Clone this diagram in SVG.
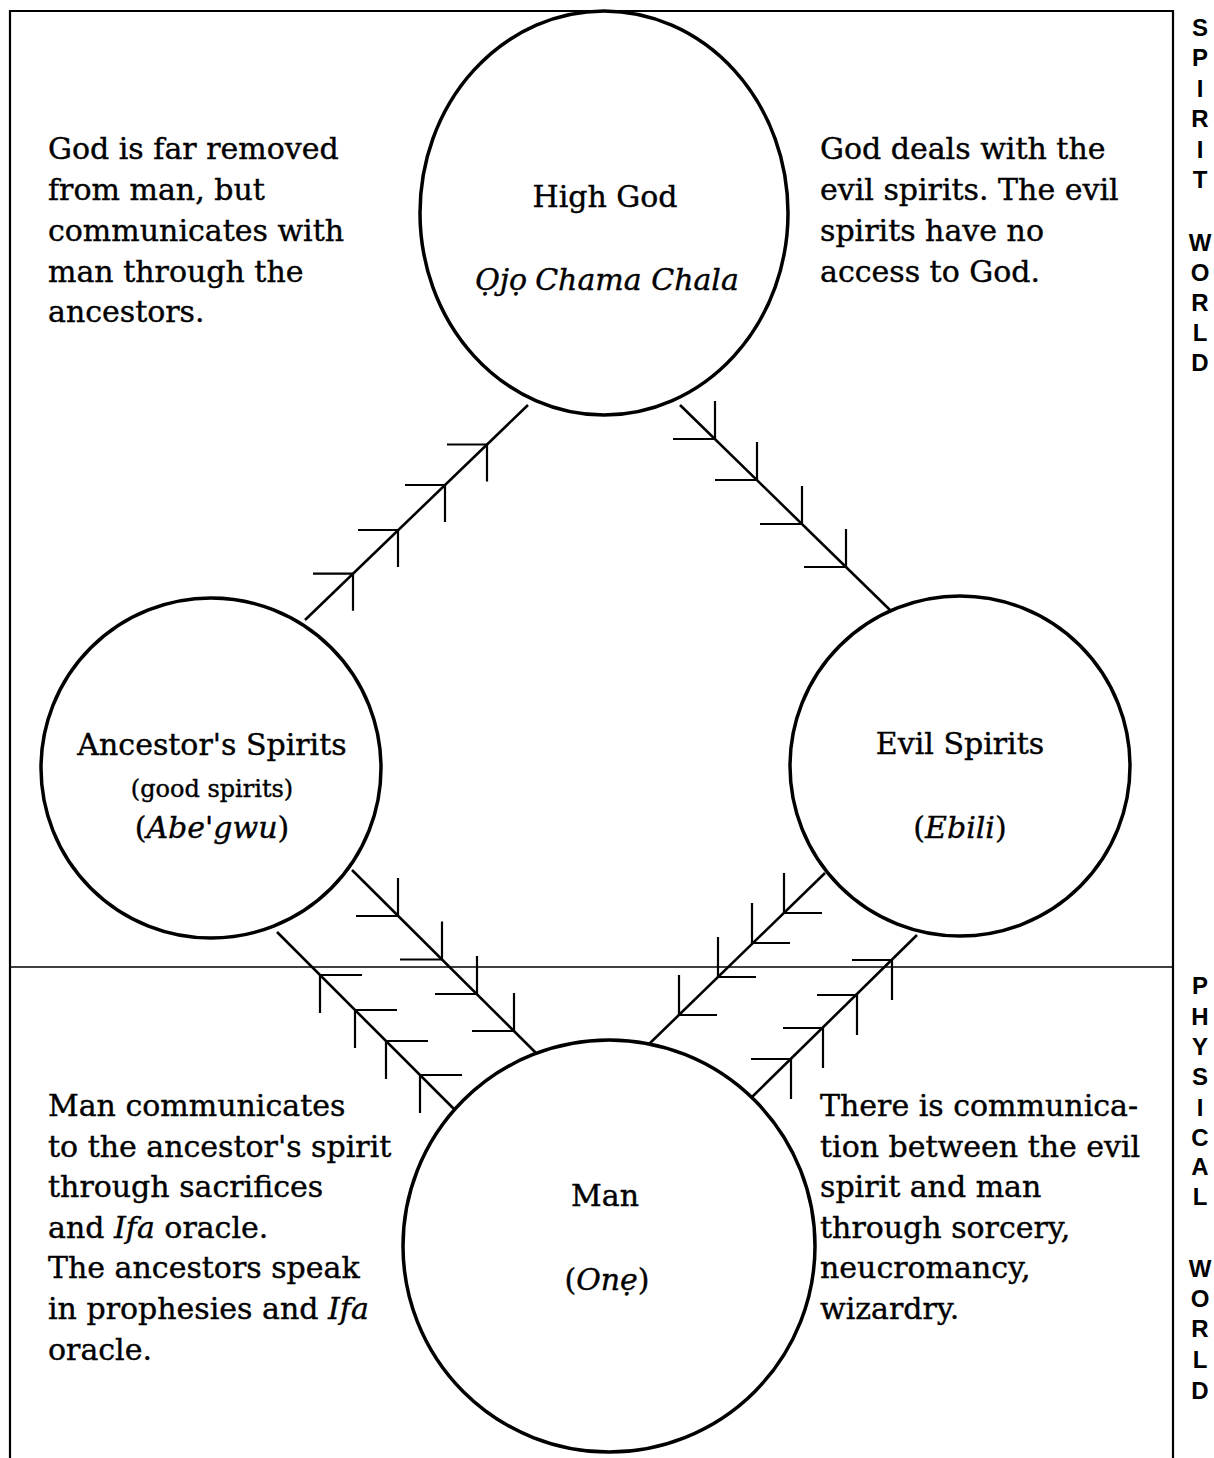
<svg xmlns="http://www.w3.org/2000/svg" width="1214" height="1458" viewBox="0 0 1214 1458">
<style>
.frame{fill:none;stroke:#000;stroke-width:2.2}
.divider{fill:none;stroke:#000;stroke-width:1.6}
.node{fill:#fff;stroke:#000;stroke-width:3.5}
.link{fill:none;stroke:#000;stroke-width:2.6}
.barb{fill:none;stroke:#000;stroke-width:2.2}
.t{font-family:"DejaVu Serif","Liberation Serif",serif;font-size:30px;fill:#000;stroke:#000;stroke-width:0.4}
.c{text-anchor:middle}
.s{font-size:24px}
.i{font-style:italic}
.side{font-family:"Liberation Sans",Arial,sans-serif;font-weight:bold;font-size:24px;text-anchor:middle;fill:#000}
</style>
<rect width="1214" height="1458" fill="#fff"/>
<g id="frame">
<path class="frame" d="M10,1458 V11 H1173 V1458"/>
<line class="divider" x1="10" y1="967" x2="1173" y2="967"/>
</g>
<g id="connectors">
<path class="link" d="M305,620 L528,405"/>
<path class="barb" d="M447,444.5 H487 V481.5 M405,485 H445 V522 M358,530 H398 V567 M313,573.7 H353 V610.7"/>
<path class="link" d="M680,405 L890,610"/>
<path class="barb" d="M673,439 H715 V401 M715,480 H757 V442 M760,524 H802 V486 M804,567 H846 V529"/>
<path class="link" d="M352,870 L538,1055"/>
<path class="barb" d="M356,916 H398 V878 M400,959.5 H442 V921.5 M435,994 H477 V956 M472,1031 H514 V993"/>
<path class="link" d="M277,932 L455,1110"/>
<path class="barb" d="M362,975 H320 V1013 M397,1010 H355 V1048 M428,1041 H386 V1079 M462,1075 H420 V1113"/>
<path class="link" d="M825,873 L647,1046"/>
<path class="barb" d="M784,873 V913 H822 M752,903 V943 H790 M718,937 V977 H756 M679,975 V1015 H717"/>
<path class="link" d="M917,935 L752,1097"/>
<path class="barb" d="M852,960 H892 V1000 M817,995 H857 V1035 M783,1028 H823 V1068 M751,1059 H791 V1099"/>
</g>
<g id="high-god">
<ellipse class="node" cx="604" cy="213" rx="184" ry="202"/>
<text class="t c" x="605" y="207">High God</text>
<text class="t c i" x="607" y="290">Ọjọ<tspan dx="8">Chama Chala</tspan></text>
</g>
<g id="ancestors">
<circle class="node" cx="211" cy="768" r="170"/>
<text class="t c" x="212" y="755">Ancestor's Spirits</text>
<text class="t c s" x="212" y="797">(good spirits)</text>
<text class="t c" x="212" y="838">(<tspan class="i">Abe'gwu</tspan>)</text>
</g>
<g id="evil-spirits">
<circle class="node" cx="960" cy="766" r="170"/>
<text class="t c" x="960" y="754">Evil Spirits</text>
<text class="t c" x="960" y="838">(<tspan class="i">Ebili</tspan>)</text>
</g>
<g id="man">
<circle class="node" cx="609" cy="1246" r="206"/>
<text class="t c" x="605" y="1206">Man</text>
<text class="t c" x="607" y="1290">(<tspan class="i">Onẹ</tspan>)</text>
</g>
<g id="note-top-left">
<text class="t" x="48" y="159">God is far removed</text>
<text class="t" x="48" y="200">from man, but</text>
<text class="t" x="48" y="241">communicates with</text>
<text class="t" x="48" y="282">man through the</text>
<text class="t" x="48" y="322">ancestors.</text>
</g>
<g id="note-top-right">
<text class="t" x="820" y="159">God deals with the</text>
<text class="t" x="820" y="200">evil spirits. The evil</text>
<text class="t" x="820" y="241">spirits have no</text>
<text class="t" x="820" y="282">access to God.</text>
</g>
<g id="note-bottom-left">
<text class="t" x="48" y="1116">Man communicates</text>
<text class="t" x="48" y="1157">to the ancestor's spirit</text>
<text class="t" x="48" y="1197">through sacrifices</text>
<text class="t" x="48" y="1238">and <tspan class="i">Ifa</tspan> oracle.</text>
<text class="t" x="48" y="1278">The ancestors speak</text>
<text class="t" x="48" y="1319">in prophesies and <tspan class="i">Ifa</tspan></text>
<text class="t" x="48" y="1360">oracle.</text>
</g>
<g id="note-bottom-right">
<text class="t" x="820" y="1116">There is communica-</text>
<text class="t" x="820" y="1157">tion between the evil</text>
<text class="t" x="820" y="1197">spirit and man</text>
<text class="t" x="820" y="1238">through sorcery,</text>
<text class="t" x="820" y="1278">neucromancy,</text>
<text class="t" x="820" y="1319">wizardry.</text>
</g>
<g id="label-spirit-world">
<text class="side" x="1200" y="36">S</text>
<text class="side" x="1200" y="66">P</text>
<text class="side" x="1200" y="97">I</text>
<text class="side" x="1200" y="127">R</text>
<text class="side" x="1200" y="158">I</text>
<text class="side" x="1200" y="188">T</text>
<text class="side" x="1200" y="251">W</text>
<text class="side" x="1200" y="281">O</text>
<text class="side" x="1200" y="311">R</text>
<text class="side" x="1200" y="341">L</text>
<text class="side" x="1200" y="371">D</text>
</g>
<g id="label-physical-world">
<text class="side" x="1200" y="994">P</text>
<text class="side" x="1200" y="1025">H</text>
<text class="side" x="1200" y="1055">Y</text>
<text class="side" x="1200" y="1085">S</text>
<text class="side" x="1200" y="1116">I</text>
<text class="side" x="1200" y="1146">C</text>
<text class="side" x="1200" y="1175">A</text>
<text class="side" x="1200" y="1205">L</text>
<text class="side" x="1200" y="1277">W</text>
<text class="side" x="1200" y="1307">O</text>
<text class="side" x="1200" y="1337">R</text>
<text class="side" x="1200" y="1368">L</text>
<text class="side" x="1200" y="1399">D</text>
</g>
</svg>
